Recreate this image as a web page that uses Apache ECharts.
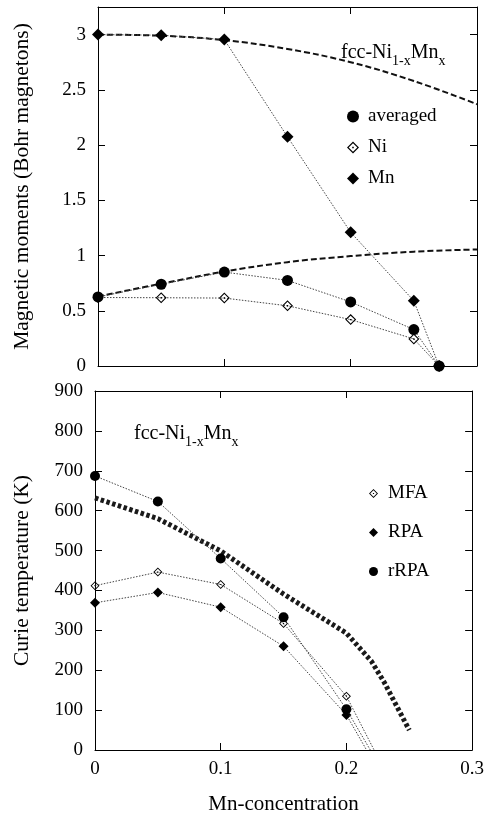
<!DOCTYPE html>
<html><head><meta charset="utf-8">
<script src="https://cdn.jsdelivr.net/npm/echarts@6/dist/echarts.min.js"></script>
<style>html,body{margin:0;padding:0;background:#fff}#c{width:487px;height:818px}</style>
</head><body><div id="c"></div>
<script>
// ---- top panel: magnetic moments ----
const xTop = [0, 0.05, 0.1, 0.15, 0.2, 0.25, 0.27];
const averaged = [0.625, 0.74, 0.85, 0.775, 0.58, 0.33, 0];
const niMoment = [0.62, 0.618, 0.615, 0.545, 0.42, 0.245, 0];
const mnMoment = [3.0, 2.995, 2.955, 2.075, 1.21, 0.59, 0];
const fitX = [0, 0.05, 0.1, 0.15, 0.2, 0.25, 0.3];
const fitMn = [3.0, 2.99, 2.95, 2.87, 2.75, 2.58, 2.37];
const fitAvg = [0.63, 0.745, 0.855, 0.94, 0.995, 1.035, 1.055];
const topTicksY = [0, 0.5, 1, 1.5, 2, 2.5, 3];

// ---- bottom panel: Curie temperature ----
const xBot = [0, 0.05, 0.1, 0.15, 0.2];
const mfa = [412, 446, 415, 317, 135];
const rpa = [369, 395, 358, 260, 88];
const rrpa = [687, 623, 480, 333, 102];
const endX = { MFA: 0.222, RPA: 0.216, rRPA: 0.219 };
const curveX = [0, 0.05, 0.1, 0.15, 0.2, 0.22, 0.23, 0.24, 0.25];
const curveT = [632, 580, 499, 391, 293, 222, 170, 110, 50];
const xTicks = [0, 0.1, 0.2, 0.3];

const FONT = 'Liberation Serif';
const openDiamond = 'path://M0,-10L10,0L0,10L-10,0Z M0,-7.2L-7.2,0L0,7.2L7.2,0Z M-1.3,-1.3L-1.3,1.3L1.3,1.3L1.3,-1.3Z';

function pairs(xs, ys) { return xs.map((x, i) => [x, ys[i]]); }
function withEnd(xs, ys, ex) {
  const d = pairs(xs, ys);
  d.push({ value: [ex, 0], symbol: 'none' });
  return d;
}
const dotted = { color: '#444', width: 1, type: [1.5, 1.5] };

function axisBase(extra) {
  return Object.assign({
    type: 'value',
    axisLine: { show: true, onZero: false, lineStyle: { color: '#000', width: 1 } },
    axisTick: { show: true, inside: true, length: 7, lineStyle: { color: '#000' } },
    splitLine: { show: false },
    axisLabel: { show: false }
  }, extra);
}
const tickLabel = { show: true, color: '#000', fontFamily: FONT, fontSize: 19 };
const titleRich = {
  a: { fontFamily: FONT, fontSize: 20, fontWeight: 'normal', color: '#000', verticalAlign: 'bottom', padding: [0, 0, 5, 0] },
  s: { fontFamily: FONT, fontSize: 14, fontWeight: 'normal', color: '#000', verticalAlign: 'bottom' }
};

const option = {
  backgroundColor: '#fff',
  animation: false,
  grid: [
    { left: 98, right: 10, top: 7, height: 359 },
    { left: 95, right: 13, top: 391, height: 359 }
  ],
  xAxis: [
    axisBase({ gridIndex: 0, position: 'bottom', min: 0, max: 0.3, interval: 0.1 }),
    axisBase({ gridIndex: 0, position: 'top', min: 0, max: 0.3, interval: 0.1 }),
    axisBase({ gridIndex: 1, position: 'bottom', min: 0, max: 0.3, interval: 0.1,
      axisLabel: Object.assign({}, tickLabel, { margin: 10, formatter: v => String(xTicks.find(t => Math.abs(t - v) < 1e-9)) }),
      name: 'Mn-concentration', nameLocation: 'middle', nameGap: 44,
      nameTextStyle: { color: '#000', fontFamily: FONT, fontSize: 21 } }),
    axisBase({ gridIndex: 1, position: 'top', min: 0, max: 0.3, interval: 0.1 })
  ],
  yAxis: [
    axisBase({ gridIndex: 0, position: 'left', min: 0, max: 3.25, interval: 0.5,
      axisLabel: Object.assign({}, tickLabel, { margin: 12, showMaxLabel: false,
        formatter: v => topTicksY.some(t => Math.abs(t - v) < 1e-9) ? String(v) : '' }),
      name: 'Magnetic moments (Bohr magnetons)', nameLocation: 'middle', nameGap: 65,
      nameTextStyle: { color: '#000', fontFamily: FONT, fontSize: 21.5 } }),
    axisBase({ gridIndex: 0, position: 'right', min: 0, max: 3.25, interval: 0.5 }),
    axisBase({ gridIndex: 1, position: 'left', min: 0, max: 900, interval: 100,
      axisLabel: Object.assign({}, tickLabel, { margin: 12 }),
      name: 'Curie temperature (K)', nameLocation: 'middle', nameGap: 62,
      nameTextStyle: { color: '#000', fontFamily: FONT, fontSize: 21.5 } }),
    axisBase({ gridIndex: 1, position: 'right', min: 0, max: 900, interval: 100 })
  ],
  title: [
    { text: '{a|fcc-Ni}{s|1-x}{a|Mn}{s|x}', left: 336, top: 38, textStyle: { rich: titleRich } },
    { text: '{a|fcc-Ni}{s|1-x}{a|Mn}{s|x}', left: 129, top: 419, textStyle: { rich: titleRich } }
  ],
  legend: [
    { orient: 'vertical', left: 342, top: 102, itemWidth: 12, itemHeight: 12, itemGap: 12,
      textStyle: { fontFamily: FONT, fontSize: 19, color: '#000', padding: [0, 0, 0, 4] },
      data: [{ name: 'averaged', icon: 'circle' }, { name: 'Ni', icon: openDiamond }, { name: 'Mn', icon: 'diamond' }] },
    { orient: 'vertical', left: 364, top: 479, itemWidth: 9, itemHeight: 9, itemGap: 20,
      textStyle: { fontFamily: FONT, fontSize: 19, color: '#000', padding: [0, 0, 0, 5] },
      data: [{ name: 'MFA', icon: openDiamond }, { name: 'RPA', icon: 'diamond' }, { name: 'rRPA', icon: 'circle' }] }
  ],
  series: [
    { name: 'fitMn', type: 'line', xAxisIndex: 0, yAxisIndex: 0, data: pairs(fitX, fitMn), smooth: 0.4,
      showSymbol: false, lineStyle: { color: '#111', width: 2, type: [6, 3] }, z: 1 },
    { name: 'fitAvg', type: 'line', xAxisIndex: 0, yAxisIndex: 0, data: pairs(fitX, fitAvg), smooth: 0.4,
      showSymbol: false, lineStyle: { color: '#111', width: 2, type: [6, 3] }, z: 1 },
    { name: 'Ni', type: 'line', xAxisIndex: 0, yAxisIndex: 0, data: pairs(xTop, niMoment),
      symbol: openDiamond, symbolSize: 11, itemStyle: { color: '#000' }, lineStyle: dotted, z: 2 },
    { name: 'Mn', type: 'line', xAxisIndex: 0, yAxisIndex: 0, data: pairs(xTop, mnMoment),
      symbol: 'diamond', symbolSize: 12, itemStyle: { color: '#000' }, lineStyle: dotted, z: 3 },
    { name: 'averaged', type: 'line', xAxisIndex: 0, yAxisIndex: 0, data: pairs(xTop, averaged),
      symbol: 'circle', symbolSize: 11, itemStyle: { color: '#000' }, lineStyle: dotted, z: 4 },

    { name: 'curve', type: 'line', xAxisIndex: 2, yAxisIndex: 2, data: pairs(curveX, curveT),
      showSymbol: false, lineStyle: { color: '#1a1a1a', width: 5, type: [3.5, 2.5], cap: 'butt' }, z: 1 },
    { name: 'MFA', type: 'line', xAxisIndex: 2, yAxisIndex: 2, data: withEnd(xBot, mfa, endX.MFA),
      symbol: openDiamond, symbolSize: 9, itemStyle: { color: '#000' }, lineStyle: dotted, z: 2 },
    { name: 'RPA', type: 'line', xAxisIndex: 2, yAxisIndex: 2, data: withEnd(xBot, rpa, endX.RPA),
      symbol: 'diamond', symbolSize: 10, itemStyle: { color: '#000' }, lineStyle: dotted, z: 3 },
    { name: 'rRPA', type: 'line', xAxisIndex: 2, yAxisIndex: 2, data: withEnd(xBot, rrpa, endX.rRPA),
      symbol: 'circle', symbolSize: 10, itemStyle: { color: '#000' }, lineStyle: dotted, z: 4 }
  ]
};
const chart = echarts.init(document.getElementById('c'), null, { renderer: 'canvas' });
chart.setOption(option);
</script>
</body></html>
